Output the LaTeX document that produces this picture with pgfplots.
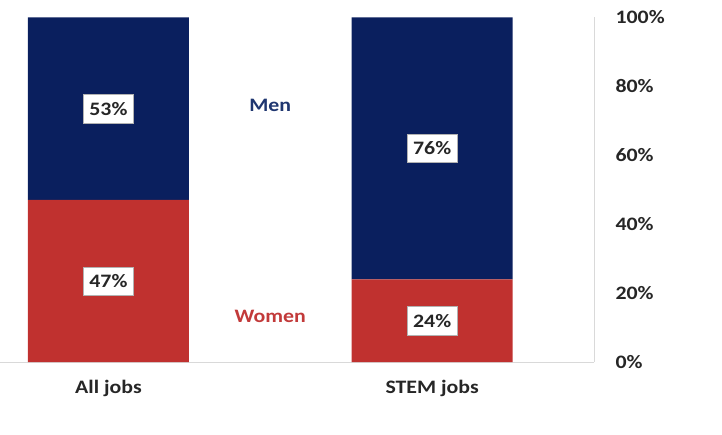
\documentclass[border=0pt]{standalone}
\usepackage{pgfplots}
\pgfplotsset{compat=1.18}
\usepackage{fontspec}
\setmainfont{Carlito}[FakeStretch=1.15]
\definecolor{navy}{HTML}{0A1F5E}
\definecolor{redb}{HTML}{C0312F}
\definecolor{mentxt}{HTML}{1F3670}
\definecolor{womtxt}{HTML}{C23A3A}
\definecolor{ticktxt}{HTML}{262626}
\tikzset{lbl/.style={fill=white, draw=gray!60, line width=0.4pt, inner xsep=6pt, inner ysep=7.5pt, text=black!85}}
\begin{document}
\fontsize{19}{22}\selectfont\bfseries
\begin{tikzpicture}
\path[use as bounding box] (0pt,0pt) rectangle (722pt,434pt);
\begin{axis}[
  at={(0pt,72pt)}, anchor=south west,
  scale only axis, width=594pt, height=344.7pt,
  xmin=-0.335, xmax=1.5, ymin=0, ymax=100,
  axis x line=bottom, axis y line=right,
  axis line style={draw=gray!30, line width=0.8pt, -},
  ytick={0,20,...,100},
  yticklabel={\pgfmathprintnumber{\tick}\%},
  xtick={0,1}, xticklabels={All jobs, STEM jobs},
  major tick length=0pt,
  /pgf/number format/assume math mode=true,
  tick label style={font=\fontsize{19}{22}\selectfont\bfseries, text=ticktxt},
  yticklabel style={anchor=west, xshift=15pt},
  xticklabel style={yshift=-12pt},
  ybar stacked, bar width=161pt,
  clip=false,
]
\addplot[fill=redb, draw=none] coordinates {(0,47) (1,24)};
\addplot[fill=navy, draw=none] coordinates {(0,53) (1,76)};
\coordinate (a) at (axis cs:0,23.5);
\coordinate (b) at (axis cs:0,73.5);
\coordinate (c) at (axis cs:1,12);
\coordinate (d) at (axis cs:1,62);
\coordinate (m) at (axis cs:0.5,74.3);
\coordinate (w) at (axis cs:0.5,13.3);
\end{axis}
\node[lbl] at (a) {47\%};
\node[lbl] at (b) {53\%};
\node[lbl] at (c) {24\%};
\node[lbl] at (d) {76\%};
\node[text=mentxt] at (m) {Men};
\node[text=womtxt] at (w) {Women};
\end{tikzpicture}
\end{document}
